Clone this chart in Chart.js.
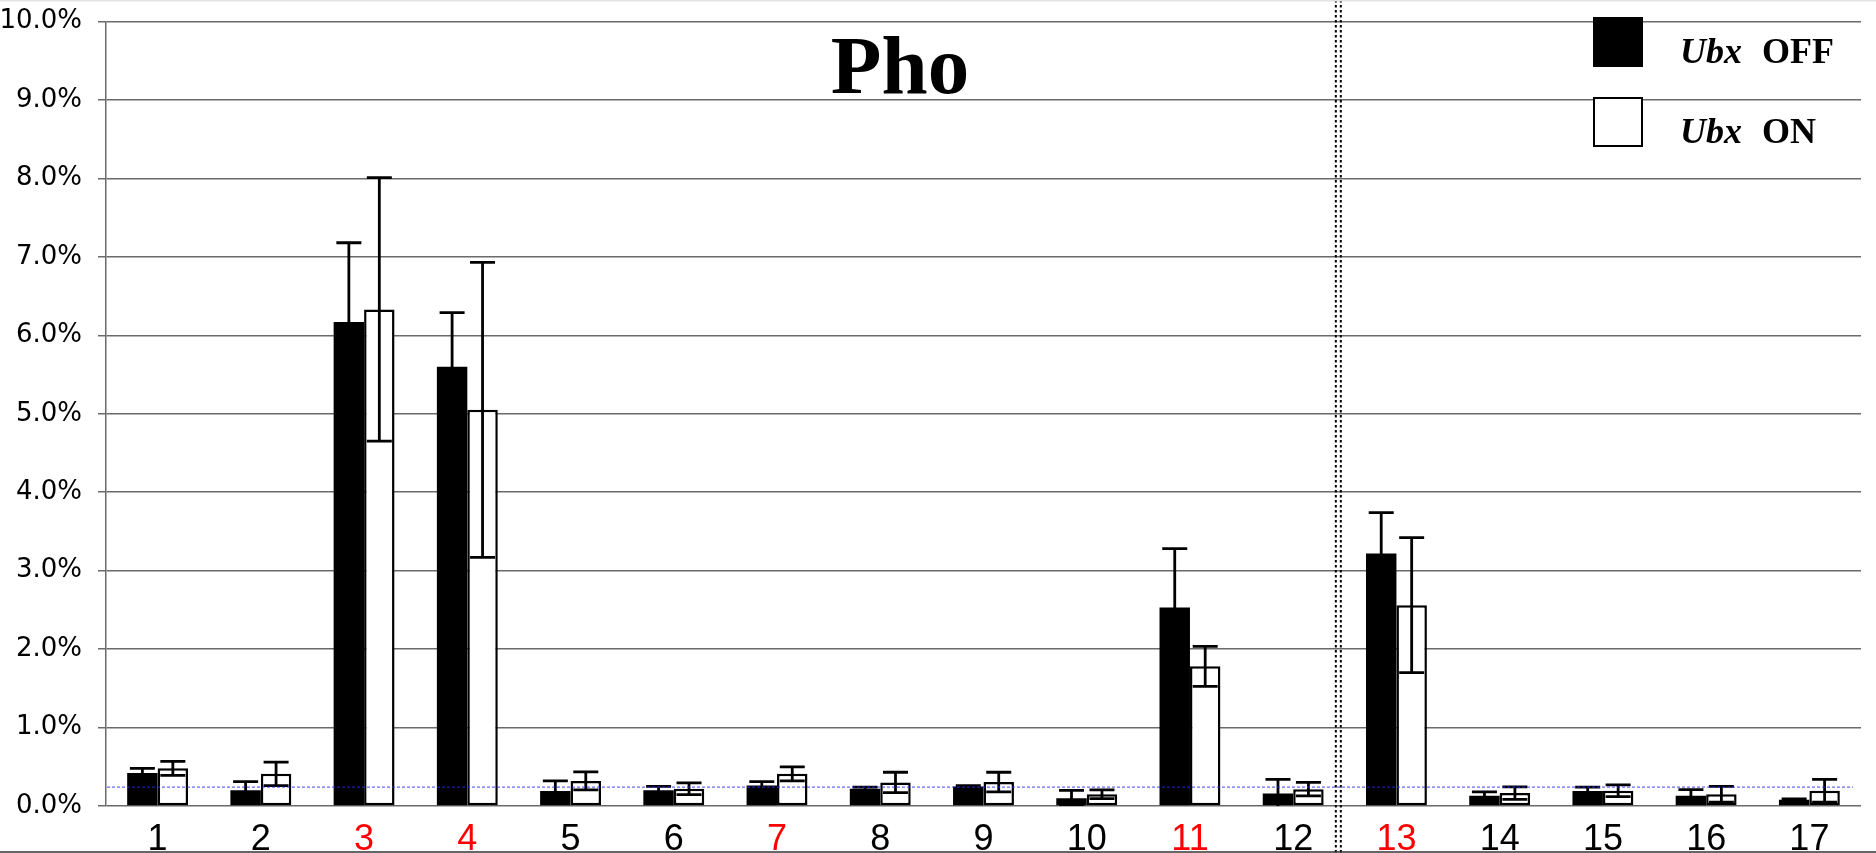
<!DOCTYPE html>
<html>
<head>
<meta charset="utf-8">
<script src="https://cdn.jsdelivr.net/npm/chart.js@4.4.1/dist/chart.umd.min.js"></script>
<style>
html,body{margin:0;padding:0;background:#fff;overflow:hidden}
#wrap{width:1876px;height:853px;position:relative}
</style>
</head>
<body>
<div id="wrap"><canvas id="c" width="1876" height="853"></canvas></div>
<script>
// ---- data ----
const categories = ['1','2','3','4','5','6','7','8','9','10','11','12','13','14','15','16','17'];
const redCategories = ['3','4','7','11','13'];
const ubxOff    = [0.42, 0.20, 6.17, 5.60, 0.19, 0.20, 0.26, 0.22, 0.25, 0.10, 2.53, 0.16, 3.22, 0.13, 0.19, 0.13, 0.08];
const ubxOffErr = [0.06, 0.11, 1.01, 0.69, 0.13, 0.05, 0.05, 0.02, 0.01, 0.10, 0.75, 0.18, 0.52, 0.05, 0.05, 0.08, 0.01];
const ubxOn     = [0.48, 0.41, 6.33, 5.05, 0.32, 0.22, 0.41, 0.30, 0.305, 0.15, 1.78, 0.215, 2.56, 0.165, 0.195, 0.15, 0.195];
const ubxOnErr  = [0.09, 0.15, 1.68, 1.88, 0.115, 0.075, 0.09, 0.13, 0.125, 0.055, 0.255, 0.085, 0.86, 0.08, 0.075, 0.10, 0.145];
const yMin = 0, yMax = 10, yStep = 1;
const thresholdValue = 0.24;
const separatorBetween = ['12', '13'];
const chartTitle = 'Pho';
const legendItems = [
  {gene: 'Ubx', state: 'OFF', fill: '#000000'},
  {gene: 'Ubx', state: 'ON',  fill: '#ffffff'}
];

// ---- plugins ----
const errorBars = {
  id: 'errorBars',
  afterDatasetsDraw(chart) {
    const ctx = chart.ctx, y = chart.scales.y, a = chart.chartArea;
    ctx.save();
    ctx.beginPath();
    ctx.rect(a.left, a.top - 5, a.right - a.left, a.bottom - a.top + 5);
    ctx.clip();
    ctx.strokeStyle = '#000';
    ctx.lineWidth = 2.8;
    ctx.lineCap = 'butt';
    chart.data.datasets.forEach((ds, di) => {
      const meta = chart.getDatasetMeta(di);
      meta.data.forEach((el, i) => {
        const v = ds.data[i], e = ds.errors[i];
        const yt = y.getPixelForValue(v + e), yb = y.getPixelForValue(v - e);
        const hw = 12.5;
        ctx.beginPath();
        ctx.moveTo(el.x, yt); ctx.lineTo(el.x, yb);
        ctx.moveTo(el.x - hw, yt); ctx.lineTo(el.x + hw, yt);
        ctx.moveTo(el.x - hw, yb); ctx.lineTo(el.x + hw, yb);
        ctx.stroke();
      });
    });
    ctx.restore();
  }
};

const overlays = {
  id: 'overlays',
  afterDraw(chart) {
    const ctx = chart.ctx, x = chart.scales.x, y = chart.scales.y, a = chart.chartArea;
    ctx.save();
    // threshold line
    const ty = y.getPixelForValue(thresholdValue);
    ctx.strokeStyle = 'rgba(40,40,255,0.7)';
    ctx.lineWidth = 1.3;
    ctx.setLineDash([3, 2]);
    ctx.beginPath();
    ctx.moveTo(a.left + 1, ty); ctx.lineTo(a.right - 8, ty);
    ctx.stroke();
    // separator (double dotted)
    const i1 = categories.indexOf(separatorBetween[0]), i2 = categories.indexOf(separatorBetween[1]);
    const sx = (x.getPixelForValue(i1) + x.getPixelForValue(i2)) / 2 - 6.5;
    ctx.strokeStyle = '#000';
    ctx.lineWidth = 2;
    ctx.setLineDash([2.5, 2.5]);
    [-2.5, 2.5].forEach(d => {
      ctx.beginPath();
      ctx.moveTo(sx + d, 0); ctx.lineTo(sx + d, chart.height);
      ctx.stroke();
    });
    ctx.setLineDash([]);
    // page borders
    ctx.strokeStyle = '#e4e4e4'; ctx.lineWidth = 1.5;
    ctx.beginPath(); ctx.moveTo(0, 0.75); ctx.lineTo(chart.width, 0.75); ctx.stroke();
    ctx.strokeStyle = '#333'; ctx.lineWidth = 1.5;
    ctx.beginPath(); ctx.moveTo(0, chart.height - 1); ctx.lineTo(chart.width, chart.height - 1); ctx.stroke();
    // title
    ctx.fillStyle = '#000';
    ctx.font = 'bold 83px "Liberation Serif", "Times New Roman", serif';
    ctx.textAlign = 'center';
    ctx.textBaseline = 'alphabetic';
    ctx.fillText(chartTitle, 900, 93);
    // legend
    ctx.textAlign = 'left';
    legendItems.forEach((it, k) => {
      const top = 17 + k * 80;
      ctx.fillStyle = it.fill;
      ctx.fillRect(1593, top, 50, 50);
      ctx.strokeStyle = '#000'; ctx.lineWidth = 2;
      ctx.strokeRect(1594, top + 1, 48, 48);
      ctx.fillStyle = '#000';
      ctx.font = 'italic bold 36px "Liberation Serif", "Times New Roman", serif';
      const base = top + 46;
      ctx.fillText(it.gene, 1680, base);
      const w = ctx.measureText(it.gene).width;
      ctx.font = 'bold 36px "Liberation Serif", "Times New Roman", serif';
      ctx.fillText(it.state, 1680 + w + 20, base);
    });
    ctx.restore();
  }
};

new Chart(document.getElementById('c'), {
  type: 'bar',
  data: {
    labels: categories,
    datasets: [
      {label: 'Ubx OFF', data: ubxOff, errors: ubxOffErr, backgroundColor: '#000', borderColor: '#000', borderWidth: 0,
       categoryPercentage: 0.59, barPercentage: 1.0},
      {label: 'Ubx ON', data: ubxOn, errors: ubxOnErr, backgroundColor: '#fff', borderColor: '#000', borderWidth: 2.5,
       borderSkipped: false, categoryPercentage: 0.59, barPercentage: 1.0}
    ]
  },
  options: {
    responsive: false,
    animation: false,
    devicePixelRatio: 1,
    layout: {padding: {top: 21.5, right: 15, left: 0, bottom: 0}},
    plugins: {legend: {display: false}, title: {display: false}, tooltip: {enabled: false}},
    scales: {
      x: {
        type: 'category',
        offset: true,
        grid: {display: false, drawTicks: false},
        border: {display: false},
        ticks: {
          autoSkip: false, maxRotation: 0, padding: 12,
          font: {family: '"Liberation Sans", Arial, sans-serif', size: 36},
          color: c => redCategories.includes(categories[c.index]) ? '#ff0000' : '#000000'
        },
        afterFit: s => { s.height = 47; s.paddingLeft = 0; s.paddingRight = 0; }
      },
      y: {
        min: yMin, max: yMax,
        ticks: {
          stepSize: yStep, padding: 16, color: '#000',
          font: {family: '"DejaVu Sans", Verdana, sans-serif', size: 26},
          callback: v => Number(v).toFixed(1) + '%'
        },
        grid: {color: '#6a6a6a', lineWidth: 1.5, tickLength: 8, drawTicks: true},
        border: {display: true, color: '#6a6a6a', width: 1.5},
        afterFit: s => { s.width = 106; s.paddingTop = 0; s.paddingBottom = 0; }
      }
    }
  },
  plugins: [errorBars, overlays]
});
</script>
</body>
</html>
